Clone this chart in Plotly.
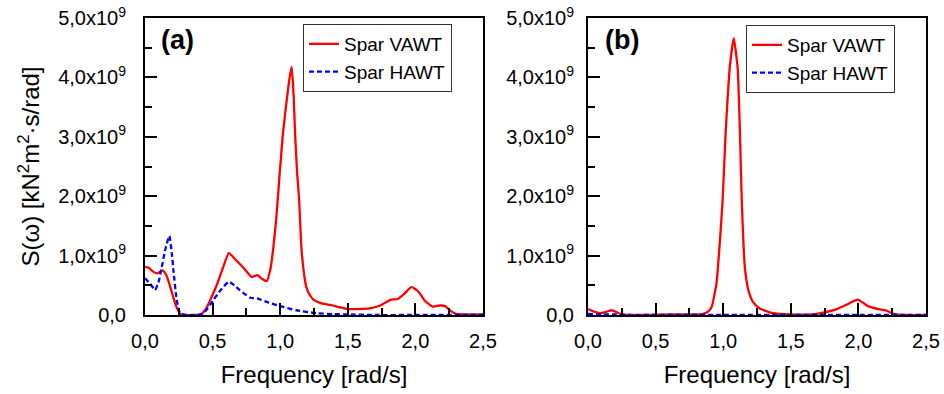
import plotly.graph_objects as go

# ---------------- data (S in units of 1e9 kN^2 m^2 s/rad) ----------------
freq_a_vawt = [0, 0.03, 0.06, 0.09, 0.13, 0.16, 0.2, 0.23, 0.26, 0.3, 0.35, 0.41, 0.45, 0.49,
               0.53, 0.57, 0.62, 0.67, 0.73, 0.79, 0.83, 0.87, 0.9, 0.93, 0.95, 0.97, 0.99,
               1.02, 1.05, 1.07, 1.085, 1.1, 1.11, 1.125, 1.14, 1.155, 1.17, 1.19, 1.21, 1.25,
               1.3, 1.37, 1.44, 1.5, 1.57, 1.66, 1.74, 1.82, 1.87, 1.92, 1.97, 2.02, 2.07,
               2.13, 2.18, 2.22, 2.26, 2.3, 2.4, 2.5]
s_a_vawt = [0.81, 0.79, 0.73, 0.70, 0.75, 0.66, 0.37, 0.15, 0.02, 0.0, 0.0, 0.01, 0.1, 0.29,
            0.5, 0.75, 1.04, 0.93, 0.79, 0.64, 0.67, 0.6, 0.57, 0.8, 1.15, 1.6, 2.2,
            3.05, 3.65, 4.0, 4.18, 3.65, 3.06, 2.4, 1.94, 1.2, 0.81, 0.5, 0.37, 0.25,
            0.2, 0.17, 0.13, 0.10, 0.10, 0.11, 0.16, 0.26, 0.27, 0.36, 0.47, 0.40, 0.24,
            0.14, 0.16, 0.15, 0.07, 0.02, 0.01, 0.01]

freq_a_hawt = [0, 0.04, 0.074, 0.1, 0.12, 0.15, 0.18, 0.2, 0.21, 0.235, 0.26, 0.3, 0.42, 0.46,
               0.505, 0.56, 0.62, 0.66, 0.70, 0.78, 0.83, 0.9, 1.0, 1.12, 1.27, 1.4, 1.5,
               1.7, 2.0, 2.5]
s_a_hawt = [0.62, 0.52, 0.42, 0.55, 0.76, 1.1, 1.33, 1.0, 0.76, 0.25, 0.03, 0.0, 0.01, 0.1,
            0.25, 0.42, 0.56, 0.5, 0.42, 0.29, 0.28, 0.22, 0.15, 0.08, 0.03, 0.015, 0.01,
            0.0, 0.0, 0.0]

freq_b_vawt = [0, 0.04, 0.09, 0.13, 0.175, 0.21, 0.25, 0.4, 0.6, 0.8, 0.85, 0.89, 0.915, 0.95,
               0.976, 0.996, 1.018, 1.05, 1.078, 1.107, 1.124, 1.137, 1.16, 1.186, 1.22,
               1.27, 1.37, 1.5, 1.65, 1.74, 1.84, 1.91, 1.995, 2.07, 2.15, 2.2, 2.26, 2.35, 2.5]
s_b_vawt = [0.10, 0.06, 0.03, 0.05, 0.08, 0.05, 0.01, 0.0, 0.01, 0.01, 0.02, 0.06, 0.14, 0.53,
            1.26, 1.94, 3.06, 4.2, 4.66, 4.15, 3.06, 1.94, 0.81, 0.42, 0.22,
            0.11, 0.03, 0.01, 0.01, 0.04, 0.10, 0.17, 0.26, 0.15, 0.10, 0.08, 0.02, 0.0, 0.0]

freq_b_hawt = [0, 0.1, 0.2, 0.3, 0.5, 1.0, 1.5, 2.0, 2.5]
s_b_hawt = [0.02, 0.01, 0.01, 0.0, 0.0, 0.0, 0.0, 0.0, 0.0]

x_tickvals = [0, 0.5, 1.0, 1.5, 2.0, 2.5]
x_ticktext = ["0,0", "0,5", "1,0", "1,5", "2,0", "2,5"]
y_tickvals = [0, 1, 2, 3, 4, 5]
y_ticktext = ["0,0", "1,0x10<sup>9</sup>", "2,0x10<sup>9</sup>", "3,0x10<sup>9</sup>",
              "4,0x10<sup>9</sup>", "5,0x10<sup>9</sup>"]

names = ["Spar VAWT", "Spar HAWT"]
panel_labels = ["(a)", "(b)"]

# ---------------- figure ----------------
W, H = 944, 394
FONT = "Liberation Sans, Arial, Helvetica, sans-serif"
red = dict(color="#ff0000", width=2.3, shape="spline", smoothing=0.5)
blue = dict(color="#0000ff", width=2.3, dash="5px,3px", shape="spline", smoothing=0.5)

fig = go.Figure()
fig.add_trace(go.Scatter(x=freq_a_vawt, y=s_a_vawt, mode="lines", name=names[0], line=red,
                         xaxis="x", yaxis="y", legend="legend"))
fig.add_trace(go.Scatter(x=freq_a_hawt, y=s_a_hawt, mode="lines", name=names[1], line=blue,
                         xaxis="x", yaxis="y", legend="legend"))
fig.add_trace(go.Scatter(x=freq_b_vawt, y=s_b_vawt, mode="lines", name=names[0], line=red,
                         xaxis="x2", yaxis="y2", legend="legend2"))
fig.add_trace(go.Scatter(x=freq_b_hawt, y=s_b_hawt, mode="lines", name=names[1], line=blue,
                         xaxis="x2", yaxis="y2", legend="legend2"))

ydom = [1 - 315 / H, 1 - 18 / H]
common_x = dict(range=[0, 2.5], tickmode="array", tickvals=x_tickvals, ticktext=x_ticktext,
                ticks="inside", ticklen=12, tickwidth=2, tickcolor="black",
                showline=True, linewidth=2, linecolor="black", mirror=True,
                showgrid=False, zeroline=False, ticklabelstandoff=7,
                minor=dict(tickmode="linear", tick0=0, dtick=0.25, ticks="inside", ticklen=7,
                           tickwidth=2, tickcolor="black", showgrid=False),
                tickfont=dict(size=20, color="black", family=FONT),
                title=dict(text="Frequency [rad/s]", font=dict(size=24, color="black", family=FONT),
                           standoff=15),
                automargin=False)
common_y = dict(range=[0, 5], domain=ydom, tickmode="array", tickvals=y_tickvals,
                ticktext=y_ticktext,
                ticks="inside", ticklen=12, tickwidth=2, tickcolor="black",
                showline=True, linewidth=2, linecolor="black", mirror=True,
                showgrid=False, zeroline=False,
                minor=dict(tickmode="linear", tick0=0, dtick=0.5, ticks="inside", ticklen=7,
                           tickwidth=2, tickcolor="black", showgrid=False),
                tickfont=dict(size=20, color="black", family=FONT),
                automargin=False)

fig.update_layout(
    width=W, height=H, autosize=False,
    margin=dict(l=0, r=0, t=0, b=0),
    paper_bgcolor="white", plot_bgcolor="white",
    font=dict(family=FONT, color="black"),
    xaxis=dict(common_x, domain=[145 / W, 483 / W], anchor="y"),
    yaxis=dict(common_y, anchor="x", ticklabelstandoff=13,
               title=dict(text="S(ω) [kN<sup>2</sup>m<sup>2</sup>·s/rad]",
                          font=dict(size=24, color="black", family=FONT), standoff=12)),
    xaxis2=dict(common_x, domain=[588 / W, 926 / W], anchor="y2"),
    yaxis2=dict(common_y, anchor="x2", ticklabelstandoff=8),
    legend=dict(x=303 / W, y=1 - 24 / H, xanchor="left", yanchor="top",
                bordercolor="#333333", borderwidth=1, bgcolor="white",
                font=dict(size=19, color="black", family=FONT), tracegroupgap=0),
    legend2=dict(x=746 / W, y=1 - 25 / H, xanchor="left", yanchor="top",
                 bordercolor="#333333", borderwidth=1, bgcolor="white",
                 font=dict(size=19, color="black", family=FONT), tracegroupgap=0),
    showlegend=True,
    annotations=[
        dict(text="<b>%s</b>" % panel_labels[0], x=159 / W, y=1 - 40 / H, xref="paper",
             yref="paper", xanchor="left", yanchor="middle", showarrow=False,
             font=dict(size=27, color="black", family=FONT)),
        dict(text="<b>%s</b>" % panel_labels[1], x=603 / W, y=1 - 40 / H, xref="paper",
             yref="paper", xanchor="left", yanchor="middle", showarrow=False,
             font=dict(size=27, color="black", family=FONT)),
    ],
)

fig.write_html("out.html", config={"displayModeBar": False},
               post_script="document.body.style.margin='0';")
